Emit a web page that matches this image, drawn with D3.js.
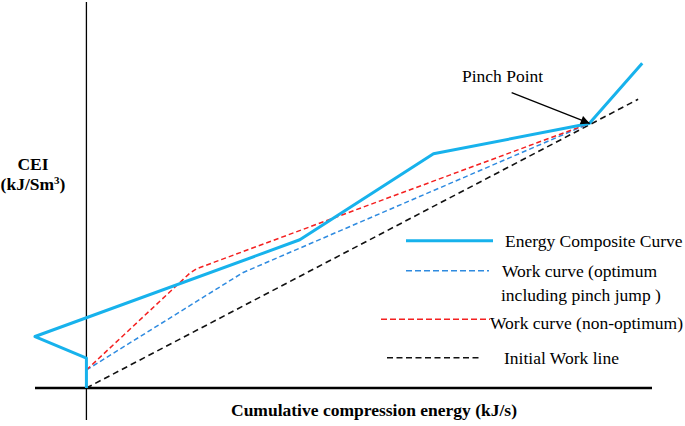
<!DOCTYPE html>
<html>
<head>
<meta charset="utf-8">
<script src="https://cdn.jsdelivr.net/npm/d3@7"></script>
<style>
  html, body { margin: 0; padding: 0; background: #fff; }
  svg { display: block; }
  text { font-family: "Liberation Serif", "DejaVu Serif", serif; }
</style>
</head>
<body>
<svg id="chart" width="685" height="426"></svg>
<script>
// ---- Data (arbitrary units) ----
const energyX = [0, 0, -10, 41.5, 67.5, 97.8, 108.1];
const energyY = [0, 5.8, 10.0, 28.8, 45.5, 51.4, 63.1];

const optimumX = [0, 30.4, 97.8];
const optimumY = [3.5, 22.4, 51.4];

const nonOptimumX = [0, 20.1, 21.5, 97.8];
const nonOptimumY = [3.5, 22.3, 23.2, 51.4];

const initialX = [0, 107.3];
const initialY = [0, 56.1];

const pinchX = 97.8, pinchY = 51.4;
const pinchArrowStartX = 82.7, pinchArrowStartY = 57.4;

const seriesNames = ["Energy Composite Curve", "Work curve (optimum\nincluding pinch jump )", "Work curve (non-optimum)", "Initial Work line"];

// ---- Scales ----
const x = d3.scaleLinear().domain([-10, 110]).range([35, 652]);
const y = d3.scaleLinear().domain([0, 75]).range([388, 2]);

const FONT = "Liberation Serif, DejaVu Serif, serif";
const svg = d3.select("#chart");

const defs = svg.append("defs");
defs.append("marker")
  .attr("id", "arrow")
  .attr("viewBox", "0 0 10 10")
  .attr("refX", 10).attr("refY", 5)
  .attr("markerWidth", 11).attr("markerHeight", 9)
  .attr("markerUnits", "userSpaceOnUse")
  .attr("orient", "auto")
  .append("path").attr("d", "M0,0 L10,5 L0,10 Z").attr("fill", "#000");

// ---- Axes (no ticks) ----
const axisG = svg.append("g");
axisG.append("line")
  .attr("x1", x(0)).attr("x2", x(0))
  .attr("y1", y(75)).attr("y2", 420)
  .attr("stroke", "#000").attr("stroke-width", 1.3);
axisG.append("line")
  .attr("x1", x(-10)).attr("x2", x(110))
  .attr("y1", y(0)).attr("y2", y(0))
  .attr("stroke", "#000").attr("stroke-width", 2.3);

const line = d3.line().x(d => x(d[0])).y(d => y(d[1]));
const zip = (xs, ys) => xs.map((v, i) => [v, ys[i]]);

const series = [
  { pts: zip(initialX, initialY), color: "#111", width: 1.6, dash: "6,4" },
  { pts: zip(optimumX, optimumY), color: "#2f8be0", width: 1.5, dash: "5,3" },
  { pts: zip(nonOptimumX, nonOptimumY), color: "#f42020", width: 1.5, dash: "5,3" },
  { pts: zip(energyX, energyY), color: "#17b2ec", width: 3, dash: null }
];

series.forEach(s => {
  svg.append("path")
    .attr("d", line(s.pts))
    .attr("fill", "none")
    .attr("stroke", s.color)
    .attr("stroke-width", s.width)
    .attr("stroke-linejoin", "round")
    .attr("stroke-dasharray", s.dash);
});

// ---- Pinch point annotation ----
svg.append("line")
  .attr("x1", x(pinchArrowStartX)).attr("y1", y(pinchArrowStartY))
  .attr("x2", x(pinchX) + 0.5).attr("y2", y(pinchY))
  .attr("stroke", "#000").attr("stroke-width", 1.3)
  .attr("marker-end", "url(#arrow)");
svg.append("text")
  .attr("x", 462).attr("y", 82)
  .attr("font-family", FONT)
  .attr("font-size", "17.5px")
  .text("Pinch Point");

// ---- Legend ----
const legend = [
  { name: seriesNames[0], color: "#17b2ec", width: 3, dash: null, x1: 406, x2: 493, ly: 240.7, tx: 505, ty: 247 },
  { name: seriesNames[1], color: "#2f8be0", width: 1.5, dash: "6,3", x1: 406, x2: 489, ly: 270.7, tx: 502, ty: 277.3 },
  { name: seriesNames[2], color: "#f42020", width: 1.5, dash: "6,3", x1: 381, x2: 490, ly: 319.3, tx: 490, ty: 329.3 },
  { name: seriesNames[3], color: "#111", width: 1.5, dash: "6,3.5", x1: 387, x2: 482, ly: 357.7, tx: 504, ty: 364.3 }
];
legend.forEach(l => {
  svg.append("line")
    .attr("x1", l.x1).attr("x2", l.x2).attr("y1", l.ly).attr("y2", l.ly)
    .attr("stroke", l.color).attr("stroke-width", l.width)
    .attr("stroke-dasharray", l.dash);
  const t = svg.append("text")
    .attr("font-family", FONT)
    .attr("font-size", "17.5px").attr("x", l.tx).attr("y", l.ty);
  l.name.split("\n").forEach((ln, i) => {
    t.append("tspan").attr("x", l.tx - i).attr("dy", i === 0 ? 0 : 23.5).text(ln);
  });
});

// ---- Axis titles ----
svg.append("text")
  .attr("x", 374).attr("y", 415.5)
  .attr("text-anchor", "middle")
  .attr("font-family", FONT)
  .attr("font-weight", "bold").attr("font-size", "17.5px")
  .text("Cumulative compression energy (kJ/s)");

svg.append("text")
  .attr("x", 33).attr("y", 170)
  .attr("text-anchor", "middle")
  .attr("font-family", FONT)
  .attr("font-weight", "bold").attr("font-size", "17.5px")
  .text("CEI");
const yt2 = svg.append("text")
  .attr("x", 33).attr("y", 189.5)
  .attr("text-anchor", "middle")
  .attr("font-family", FONT)
  .attr("font-weight", "bold").attr("font-size", "17.5px");
yt2.append("tspan").text("(kJ/Sm");
yt2.append("tspan").attr("font-size", "11px").attr("dy", -6).text("3");
yt2.append("tspan").attr("dy", 6).text(")");
</script>
</body>
</html>
